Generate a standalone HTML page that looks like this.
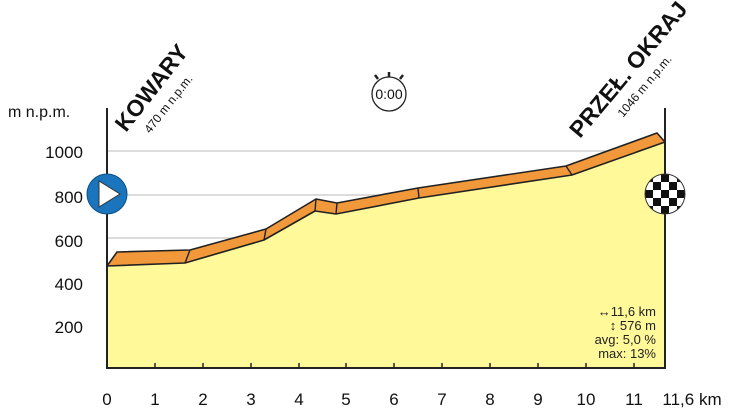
<!DOCTYPE html>
<html><head><style>
body{margin:0;background:#fff;}
svg{display:block;font-family:"Liberation Sans",Arial,sans-serif;}
</style></head><body>
<svg width="736" height="410" viewBox="0 0 736 410">
<rect width="736" height="410" fill="#fff"/>
<g stroke="#c8c8c8" stroke-width="1.2">
<line x1="107" y1="151" x2="665" y2="151"/>
<line x1="107" y1="195" x2="665" y2="195"/>
<line x1="107" y1="238" x2="665" y2="238"/>
<line x1="107" y1="282" x2="665" y2="282"/>
<line x1="107" y1="325" x2="665" y2="325"/>
</g>
<polygon points="107,266 185,263 264,240 315,211 336,214 419,198 572,175 665,142 665,368 107,368" fill="#fff99a"/>
<polygon points="107,266 117,252 190,250 266,229 316,199 337,203 418,188 566,166 657,133 665,142 572,175 419,198 336,214 315,211 264,240 185,263" fill="#f0983a" stroke="#222" stroke-width="1.6" stroke-linejoin="round"/>
<g stroke="#222" stroke-width="1.4">
<line x1="185" y1="263" x2="190" y2="250"/>
<line x1="264" y1="240" x2="266" y2="229"/>
<line x1="315" y1="211" x2="316" y2="199"/>
<line x1="336" y1="214" x2="337" y2="203"/>
<line x1="419" y1="198" x2="418" y2="188"/>
<line x1="572" y1="175" x2="566" y2="166"/>
</g>
<g stroke="#222" stroke-width="2">
<line x1="107" y1="108" x2="107" y2="369"/>
<line x1="665" y1="108" x2="665" y2="369"/>
<line x1="106" y1="368" x2="666" y2="368"/>
</g>
<g stroke="#222" stroke-width="1.5">
<line x1="155" y1="368" x2="155" y2="363"/><line x1="203" y1="368" x2="203" y2="363"/>
<line x1="251" y1="368" x2="251" y2="363"/><line x1="299" y1="368" x2="299" y2="363"/>
<line x1="346" y1="368" x2="346" y2="363"/><line x1="394" y1="368" x2="394" y2="363"/>
<line x1="442" y1="368" x2="442" y2="363"/><line x1="490" y1="368" x2="490" y2="363"/>
<line x1="538" y1="368" x2="538" y2="363"/><line x1="586" y1="368" x2="586" y2="363"/>
<line x1="634" y1="368" x2="634" y2="363"/>
</g>
<g font-size="17" fill="#111" text-anchor="middle">
<text x="107" y="405">0</text><text x="155" y="405">1</text><text x="203" y="405">2</text>
<text x="251" y="405">3</text><text x="299" y="405">4</text><text x="346" y="405">5</text>
<text x="394" y="405">6</text><text x="442" y="405">7</text><text x="490" y="405">8</text>
<text x="538" y="405">9</text><text x="586" y="405">10</text><text x="634" y="405">11</text>
<text x="692" y="405">11,6 km</text>
</g>
<g font-size="17" fill="#111" text-anchor="end">
<text x="83" y="158">1000</text><text x="83" y="203">800</text><text x="83" y="247">600</text>
<text x="83" y="290">400</text><text x="83" y="333">200</text>
</g>
<text x="8" y="117" font-size="16" fill="#111">m n.p.m.</text>
<g font-size="13" fill="#222" text-anchor="end">
<text x="656" y="316">↔11,6 km</text>
<text x="656" y="330">↕  576 m</text>
<text x="656" y="344">avg: 5,0 %</text>
<text x="656" y="358">max: 13%</text>
</g>
<text transform="translate(126,133) rotate(-52)" font-size="23" font-weight="bold" fill="#111">KOWARY</text>
<text transform="translate(150,134) rotate(-52)" font-size="12" fill="#111">470 m n.p.m.</text>
<text transform="translate(580,139) rotate(-50)" font-size="23" font-weight="bold" fill="#111">PRZEŁ. OKRAJ</text>
<text transform="translate(623,118) rotate(-50)" font-size="12" fill="#111">1046 m n.p.m.</text>
<circle cx="389" cy="94" r="17" fill="#fff" stroke="#222" stroke-width="1.3"/>
<g stroke="#222" stroke-width="2.5"><line x1="389" y1="72" x2="389" y2="77"/><line x1="375" y1="75" x2="378" y2="79"/><line x1="403" y1="75" x2="400" y2="79"/></g>
<text x="389" y="99" font-size="14" text-anchor="middle" fill="#111">0:00</text>
<circle cx="107" cy="194" r="20" fill="#1b75bc" stroke="#0d4f85" stroke-width="1"/>
<polygon points="99,181 99,207 120,194" fill="#fff" stroke="#333" stroke-width="1"/>
<defs><clipPath id="cc"><circle cx="665" cy="194" r="20"/></clipPath></defs>
<g clip-path="url(#cc)">
<rect x="645" y="174" width="40" height="40" fill="#fff"/>
<g fill="#111">
<rect x="645" y="174" width="8" height="8"/><rect x="661" y="174" width="8" height="8"/><rect x="677" y="174" width="8" height="8"/>
<rect x="653" y="182" width="8" height="8"/><rect x="669" y="182" width="8" height="8"/>
<rect x="645" y="190" width="8" height="8"/><rect x="661" y="190" width="8" height="8"/><rect x="677" y="190" width="8" height="8"/>
<rect x="653" y="198" width="8" height="8"/><rect x="669" y="198" width="8" height="8"/>
<rect x="645" y="206" width="8" height="8"/><rect x="661" y="206" width="8" height="8"/><rect x="677" y="206" width="8" height="8"/>
</g></g>
<circle cx="665" cy="194" r="20" fill="none" stroke="#333" stroke-width="1"/>
</svg>
</body></html>
